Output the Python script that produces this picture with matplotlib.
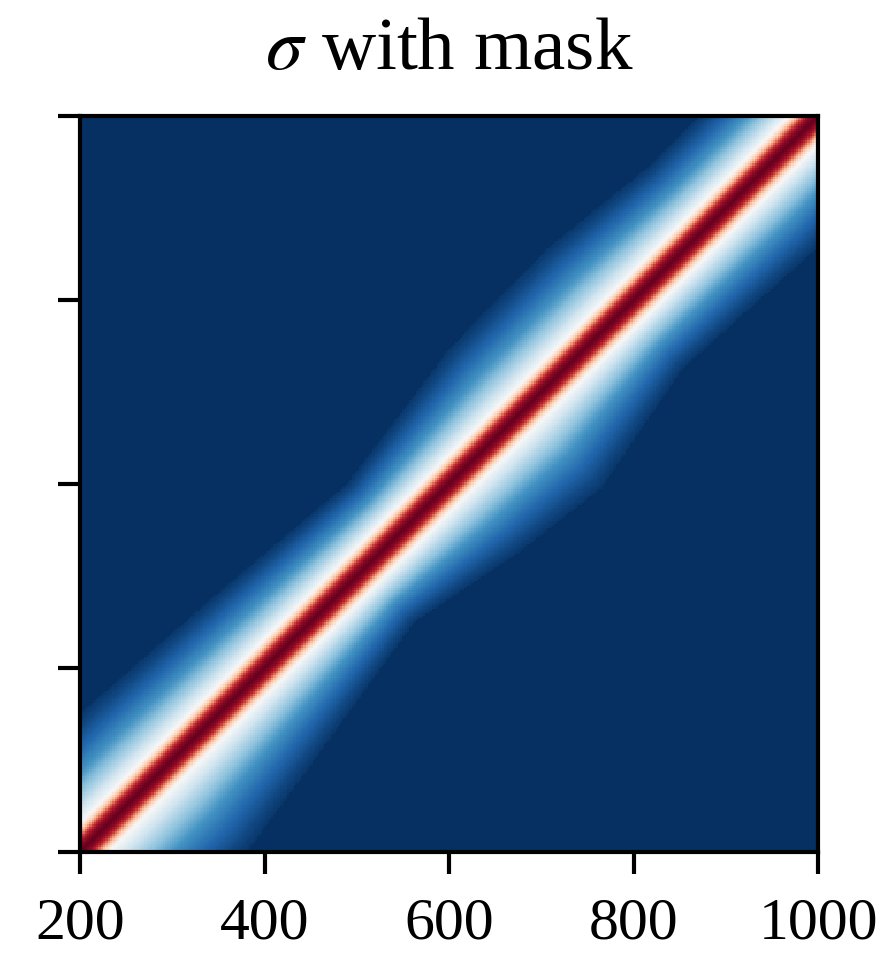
import numpy as np
import matplotlib
matplotlib.use('Agg')
import matplotlib.pyplot as plt

# --- values ---
grid_lo, grid_hi, n_cells = 200, 1000, 321

prof_offset = [0, 8, 14, 22, 31, 47, 67, 88, 112, 135, 152]
prof_value = [1.0, 0.95, 0.87, 0.66, 0.5, 0.4, 0.3, 0.2, 0.11, 0.05, 0.015]
core_edge = 31      # profile is not stretched inside this offset
ref_width = 152     # mask width that matches the profile above

# mask half-width along the diagonal (above / below), midpoint position -> width
upper_pos = [200, 280, 410, 545, 673, 780, 880, 1000]
upper_width = [150, 150, 133, 111, 147, 150, 129, 130]
lower_pos = [200, 290, 365, 505, 600, 680, 789, 926, 1000]
lower_width = [180, 181, 158, 113, 150, 170, 128, 143, 140]

xticks = [200, 400, 600, 800, 1000]

# --- build the masked sigma matrix ---
t = np.linspace(grid_lo, grid_hi, n_cells)
X, Y = np.meshgrid(t, t)
d = Y - X
mid = (X + Y) / 2
w = np.where(d >= 0, np.interp(mid, upper_pos, upper_width),
             np.interp(mid, lower_pos, lower_width))
ad = np.abs(d)
d_eff = np.where(ad < core_edge, ad,
                 core_edge + (ad - core_edge) * (ref_width - core_edge) / (w - core_edge))
sigma = np.interp(d_eff, prof_offset, prof_value)
sigma = np.where(ad <= w, sigma, 0.0)

# --- plot ---
plt.rcParams['font.family'] = ['Liberation Serif', 'DejaVu Serif']
plt.rcParams['mathtext.fontset'] = 'stix'

fig = plt.figure(figsize=(8.92, 9.55), dpi=100)
ax = fig.add_axes([0.0897, 0.1079, 0.8274, 0.7707])
ax.imshow(sigma, origin='lower', extent=[grid_lo, grid_hi, grid_lo, grid_hi],
          cmap='RdBu_r', vmin=0, vmax=1, interpolation='nearest', aspect='auto')
ax.set_xticks(xticks)
ax.set_yticks(xticks)
ax.set_yticklabels([])
ax.tick_params(axis='both', length=16, width=3.0, labelsize=43, pad=17)
for s in ax.spines.values():
    s.set_linewidth(3.0)
ax.set_title(r'$\sigma$ with mask', fontsize=54, pad=34)

fig.savefig('out.png', dpi=100)
